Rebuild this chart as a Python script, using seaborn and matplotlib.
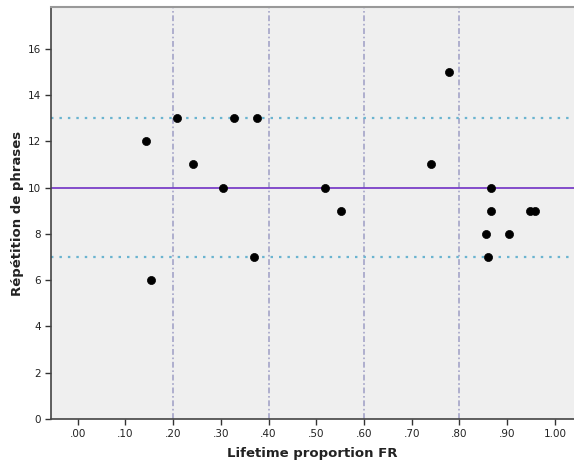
import matplotlib
matplotlib.use("Agg")
import matplotlib.pyplot as plt
import seaborn as sns
import pandas as pd
from matplotlib.ticker import FuncFormatter

# Lifetime proportion of French vs. phrase repetition score
lifetime_fr = [0.143, 0.154, 0.209, 0.241, 0.304, 0.327, 0.369, 0.376,
               0.519, 0.551, 0.741, 0.779, 0.856, 0.860, 0.866, 0.866,
               0.904, 0.947, 0.958]
repetition = [12, 6, 13, 11, 10, 13, 7, 13,
              10, 9, 11, 15, 8, 7, 10, 9,
              8, 9, 9]

x_ticks = [0.0, 0.1, 0.2, 0.3, 0.4, 0.5, 0.6, 0.7, 0.8, 0.9, 1.0]
y_ticks = [0, 2, 4, 6, 8, 10, 12, 14, 16]
mean_line = 10
band_lines = [7, 13]
x_refs = [0.2, 0.4, 0.6, 0.8]

df = pd.DataFrame({"Lifetime proportion FR": lifetime_fr,
                   "Répétition de phrases": repetition})

sns.set_theme(style="ticks")
plt.rcParams["font.family"] = ["DejaVu Sans"]

fig = plt.figure(figsize=(5.74, 4.66), dpi=100)
ax = fig.add_axes([0.0889, 0.1009, 0.9111, 0.8841])
ax.set_facecolor("#efefef")

for xv in x_refs:
    ax.axvline(xv, color="#a4a4c8", lw=1.2, ls=(0, (3.5, 1.6, 1, 1.6)), zorder=1)
for yv in band_lines:
    ax.axhline(yv, color="#6ab4d0", lw=1.6, ls=(0, (1.1, 2.7)), zorder=1)
ax.axhline(mean_line, color="#7a3fc8", lw=1.3, zorder=1)

sns.scatterplot(data=df, x="Lifetime proportion FR", y="Répétition de phrases",
                ax=ax, color="black", s=34, edgecolor="black", linewidth=0.5,
                zorder=3)

ax.set_xlim(-0.056, 1.04)
ax.set_ylim(0, 17.8)
ax.set_xticks(x_ticks)
ax.set_yticks(y_ticks)
ax.xaxis.set_major_formatter(FuncFormatter(lambda v, p: f"{v:.2f}".lstrip("0") if v < 1 else f"{v:.2f}"))
ax.tick_params(axis="both", labelsize=7.5, length=4, width=1, color="#333333",
               labelcolor="#222222", pad=3)

for side in ["left", "bottom"]:
    ax.spines[side].set_color("#444444")
    ax.spines[side].set_linewidth(1.2)
ax.spines["top"].set_color("#999999")
ax.spines["top"].set_linewidth(1.5)
ax.spines["right"].set_visible(False)

ax.set_xlabel("Lifetime proportion FR", fontsize=9.5, fontweight="bold",
              color="#222222", labelpad=6)
ax.set_ylabel("Répétition de phrases", fontsize=9.5, fontweight="bold",
              color="#222222", labelpad=3)

fig.savefig("out.png", dpi=100, facecolor="white")
